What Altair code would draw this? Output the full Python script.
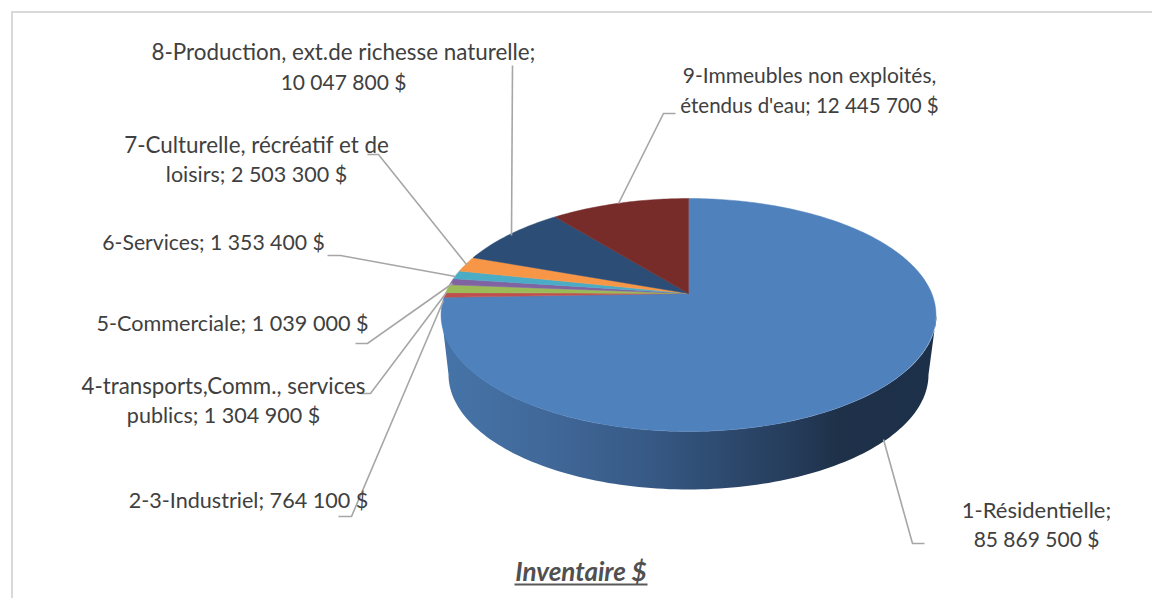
import math
import altair as alt
import pandas as pd

# ---- data ----
categories = ["1-Résidentielle", "2-3-Industriel", "4-transports,Comm., services publics",
              "5-Commerciale", "6-Services", "7-Culturelle, récréatif et de loisirs",
              "8-Production, ext.de richesse naturelle", "9-Immeubles non exploités, étendus d'eau"]
values = [85869500, 764100, 1304900, 1039000, 1353400, 2503300, 10047800, 12445700]
colors = ["#4f81bd", "#c0504d", "#9bbb59", "#8064a2", "#4bacc6", "#f79646", "#2c4d75", "#772c2a"]

label_lines = [
    "8-Production, ext.de richesse naturelle;", "10 047 800 $",
    "7-Culturelle, récréatif et de", "loisirs; 2 503 300 $",
    "6-Services; 1 353 400 $", "5-Commerciale; 1 039 000 $",
    "4-transports,Comm., services", "publics; 1 304 900 $",
    "2-3-Industriel; 764 100 $", "1-Résidentielle;", "85 869 500 $",
    "9-Immeubles non exploités,", "étendus d'eau; 12 445 700 $",
]

# ---- layout (units of the x/y scales = page pixels) ----
label_x = [343, 343, 256, 256, 213, 232, 223, 223, 248, 1036, 1036, 809, 809]
label_y = [59, 89, 152, 181, 249, 330, 393, 422, 507, 517, 546, 82, 112]
label_size = [22.4, 21, 22.4, 21.5, 21.2, 21.6, 22.3, 21.5, 21.6, 22, 21, 21, 20.5]
leaders = [
    [(511, 235), (512, 65)],
    [(367, 154), (378, 154), (466, 264)],
    [(327, 255), (340, 255), (455, 276)],
    [(355, 343), (367, 343), (452, 283)],
    [(360, 393), (370, 393), (446, 292)],
    [(338, 516), (351, 516), (443, 300)],
    [(924, 543), (912, 543), (883, 439)],
    [(675, 113), (663, 113), (618, 203)],
]
APEX = (688, 293)
A, B, K = 112.5, 243.2, 0.1845      # perspective of the top face
TOP = (688.5, 314.5, 247.5, 116.5)  # top ellipse
BOT = (688.0, 374.0, 240.0, 115.0)  # bottom ellipse
OX, OY = 10.5, 10.5
PAGE_W, PAGE_H = 1141, 587

X = alt.X("x:Q", axis=None, scale=alt.Scale(domain=[OX, OX + PAGE_W], nice=False, zero=False))
Y = alt.Y("y:Q", axis=None, scale=alt.Scale(domain=[OY + PAGE_H, OY], nice=False, zero=False))


def top_point(theta):
    u, v = math.sin(theta), math.cos(theta)
    d = 1 + K * v
    return APEX[0] + B * u / d, APEX[1] - A * v / d


# top face slices, from the values
rows = []
total = sum(values)
cum = 0
for i, (cat, val) in enumerate(zip(categories, values)):
    a0 = cum / total * 2 * math.pi
    cum += val
    a1 = cum / total * 2 * math.pi
    n = max(4, int((a1 - a0) * 60))
    rows.append({"slice": cat, "ord": 0, "x": APEX[0], "y": APEX[1]})
    for j in range(n + 1):
        px, py = top_point(a0 + (a1 - a0) * j / n)
        rows.append({"slice": cat, "ord": j + 1, "x": px, "y": py})
    rows.append({"slice": cat, "ord": n + 2, "x": APEX[0], "y": APEX[1]})
slices = pd.DataFrame(rows)

# side wall: lower half of the top ellipse, back along the lower half of the bottom one
wall = []
N = 120
for j in range(N + 1):
    t = math.pi * j / N
    wall.append({"ord": j, "x": TOP[0] - TOP[2] * math.cos(t), "y": TOP[1] + TOP[3] * math.sin(t)})
for j in range(N + 1):
    t = math.pi * j / N
    wall.append({"ord": N + 1 + j, "x": BOT[0] + BOT[2] * math.cos(t), "y": BOT[1] + BOT[3] * math.sin(t)})
wall = pd.DataFrame(wall)

grad = alt.LinearGradient(
    gradient="linear", x1=0, x2=1, y1=0, y2=0,
    stops=[alt.GradientStop(offset=o, color=c) for o, c in [
        (0, "#4674a8"), (0.2, "#41699a"), (0.4, "#385b87"), (0.55, "#2f4c72"),
        (0.7, "#263d5c"), (0.8, "#1e3149"), (1, "#1d3049")]])

wall_layer = alt.Chart(wall).mark_line(fill=grad, strokeWidth=0, interpolate="linear").encode(
    x=X, y=Y, order="ord:Q")
slice_layer = alt.Chart(slices).mark_line(strokeWidth=0.5, interpolate="linear").encode(
    x=X, y=Y, order="ord:Q",
    detail="slice:N",
    fill=alt.Fill("slice:N", scale=alt.Scale(domain=categories, range=colors), legend=None),
    stroke=alt.Stroke("slice:N", scale=alt.Scale(domain=categories, range=colors), legend=None),
)

lead_rows = [{"k": i, "ord": j, "x": p[0], "y": p[1]} for i, l in enumerate(leaders) for j, p in enumerate(l)]
lead_layer = alt.Chart(pd.DataFrame(lead_rows)).mark_line(color="#a6a6a6", strokeWidth=1.6).encode(
    x=X, y=Y, order="ord:Q", detail="k:N")

text_layer = alt.Chart(pd.DataFrame({"x": label_x, "y": label_y, "t": label_lines, "s": label_size})).mark_text(
    font="Lato", color="#404040", align="center", baseline="alphabetic"
).encode(x=X, y=Y, text="t:N", size=alt.Size("s:Q", scale=None, legend=None))

title_layer = alt.Chart(pd.DataFrame({"x": [580.5], "y": [580], "t": ["Inventaire $"]})).mark_text(
    font="Lato", fontSize=26, fontStyle="italic", fontWeight="bold", color="#505050",
    align="center", baseline="alphabetic"
).encode(x=X, y=Y, text="t:N")
under_layer = alt.Chart(pd.DataFrame({"x": [514, 647], "y": [584, 584], "ord": [0, 1]})).mark_line(
    color="#595959", strokeWidth=2).encode(x=X, y=Y, order="ord:Q")

frame = pd.DataFrame({"x": [OX + 1, OX + 1, OX + PAGE_W], "y": [OY + PAGE_H, OY + 1, OY + 1], "ord": [0, 1, 2]})
frame_layer = alt.Chart(frame).mark_line(color="#d9d9d9", strokeWidth=2).encode(x=X, y=Y, order="ord:Q")

chart = alt.layer(frame_layer, wall_layer, slice_layer, lead_layer, text_layer, title_layer, under_layer).properties(
    width=PAGE_W, height=PAGE_H, padding=0, background="white"
).configure_view(stroke=None)

chart.save("out.html", embed_options={"renderer": "svg", "actions": False})
